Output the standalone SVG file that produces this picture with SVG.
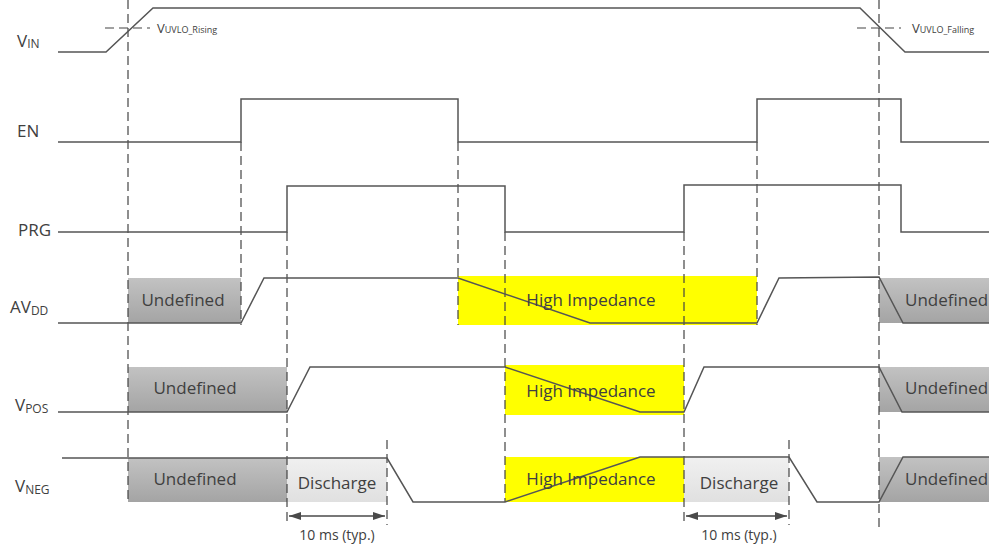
<svg xmlns="http://www.w3.org/2000/svg" width="989" height="546" viewBox="0 0 989 546">
<defs>
<linearGradient id="gUnd" x1="0" y1="0" x2="0" y2="1">
<stop offset="0" stop-color="#c2c2c2"/>
<stop offset="1" stop-color="#a4a4a4"/>
</linearGradient>
<linearGradient id="gDis" x1="0" y1="0" x2="0" y2="1">
<stop offset="0" stop-color="#f0f0f0"/>
<stop offset="1" stop-color="#e0e0e0"/>
</linearGradient>
<marker id="ah" viewBox="0 0 12 8" refX="12" refY="4" markerWidth="12" markerHeight="8" markerUnits="userSpaceOnUse" orient="auto-start-reverse">
<path d="M0,0 L12,4 L0,8 Z" fill="#4a4a4a"/>
</marker>
</defs>
<style>
.sig{fill:none;stroke:#555;stroke-width:1.5}
.dash{fill:none;stroke:#444;stroke-width:1.2;stroke-dasharray:9,5}
.und{fill:url(#gUnd)}
.dis{fill:url(#gDis)}
.hi{fill:#ffff00}
.lbl{font-family:"Open Sans","Liberation Sans",sans-serif;font-size:17px;fill:#404040}
.sub{font-size:12px}
.box{font-family:"Open Sans","Liberation Sans",sans-serif;font-size:17px;fill:#404040}
.small{font-family:"Open Sans","Liberation Sans",sans-serif;font-size:14px;fill:#404040}
.th{font-family:"Open Sans","Liberation Sans",sans-serif;font-size:13px;fill:#404040}
.thsub{font-size:9px}
.arr{fill:none;stroke:#4a4a4a;stroke-width:1.5}
</style>

<rect width="989" height="546" fill="#ffffff"/>

<!-- shaded regions -->
<g id="regions">
<rect class="und" x="128" y="278" width="113" height="45"/>
<rect class="hi" x="458" y="276" width="299" height="49"/>
<rect class="und" x="879" y="278" width="110" height="45"/>
<rect class="und" x="128" y="367" width="159" height="45"/>
<rect class="hi" x="505" y="365" width="179" height="50"/>
<rect class="und" x="879" y="367" width="110" height="45"/>
<rect class="und" x="128" y="458" width="159" height="44"/>
<rect class="dis" x="287" y="458" width="100" height="44"/>
<rect class="hi" x="505" y="457" width="179" height="45"/>
<rect class="dis" x="684" y="458" width="105" height="44"/>
<rect class="und" x="879" y="457" width="110" height="45"/>
</g>

<!-- dashed markers -->
<g id="markers">
<line class="dash" x1="128" y1="0" x2="128" y2="503"/>
<line class="dash" x1="241" y1="142" x2="241" y2="325"/>
<line class="dash" x1="287" y1="232" x2="287" y2="525"/>
<line class="dash" x1="387" y1="440" x2="387" y2="525"/>
<line class="dash" x1="458" y1="142" x2="458" y2="325"/>
<line class="dash" x1="505" y1="232" x2="505" y2="502"/>
<line class="dash" x1="684" y1="232" x2="684" y2="525"/>
<line class="dash" x1="757" y1="142" x2="757" y2="325"/>
<line class="dash" x1="789" y1="440" x2="789" y2="525"/>
<line class="dash" x1="879" y1="0" x2="879" y2="527"/>
<line class="dash" x1="105" y1="28" x2="150" y2="28"/>
<line class="dash" x1="857" y1="28" x2="901" y2="28"/>
</g>

<!-- signals -->
<g id="VIN">
<text class="lbl" x="17" y="47">V<tspan class="sub" dy="1">IN</tspan></text>
<polyline class="sig" points="58,52 106,52 153,8 860,8 905,52 989,52"/>
<text class="th" x="157" y="33">V<tspan class="thsub">UVLO_Rising</tspan></text>
<text class="th" x="912" y="33">V<tspan class="thsub">UVLO_Falling</tspan></text>
</g>

<g id="EN">
<text class="lbl" x="17" y="137">EN</text>
<polyline class="sig" points="58,142 241,142 241,99 458,99 458,142 757,142 757,99 901,99 901,142 989,142"/>
</g>

<g id="PRG">
<text class="lbl" x="18" y="236">PRG</text>
<polyline class="sig" points="58,232 287,232 287,186 505,186 505,232 684,232 684,185 901,185 901,232 989,232"/>
</g>

<g id="AVDD">
<text class="lbl" x="10" y="313">AV<tspan class="sub" dy="2">DD</tspan></text>
<polyline class="sig" points="58,323 241,323 264,278 458,278 590,323 757,323 779,278 879,277 903,323 989,323"/>
<text class="box" x="183" y="306" text-anchor="middle">Undefined</text>
<text class="box" x="591" y="306" text-anchor="middle">High Impedance</text>
<text class="box" x="905" y="306">Undefined</text>
</g>

<g id="VPOS">
<text class="lbl" x="15" y="411">V<tspan class="sub" dy="2">POS</tspan></text>
<polyline class="sig" points="58,412 287,412 310,367 505,367 640,412 684,412 704,367 879,367 902,412 989,412"/>
<text class="box" x="195" y="394" text-anchor="middle">Undefined</text>
<text class="box" x="591" y="397" text-anchor="middle">High Impedance</text>
<text class="box" x="905" y="394">Undefined</text>
</g>

<g id="VNEG">
<text class="lbl" x="15" y="492">V<tspan class="sub" dy="2">NEG</tspan></text>
<polyline class="sig" points="62,458 387,458 413,502 505,502 640,457 789,457 817,502 879,502 903,457 989,457"/>
<text class="box" x="195" y="485" text-anchor="middle">Undefined</text>
<text class="box" x="337" y="489" text-anchor="middle">Discharge</text>
<text class="box" x="591" y="485" text-anchor="middle">High Impedance</text>
<text class="box" x="739" y="489" text-anchor="middle">Discharge</text>
<text class="box" x="905" y="485">Undefined</text>
</g>

<!-- dimension arrows -->
<g id="connectors">
<line class="arr" x1="289" y1="516" x2="385" y2="516" marker-start="url(#ah)" marker-end="url(#ah)"/>
<line class="arr" x1="686" y1="516" x2="787" y2="516" marker-start="url(#ah)" marker-end="url(#ah)"/>
</g>
<g id="dimlabels">
<text class="small" x="337" y="540" text-anchor="middle">10 ms (typ.)</text>
<text class="small" x="739" y="540" text-anchor="middle">10 ms (typ.)</text>
</g>
</svg>
